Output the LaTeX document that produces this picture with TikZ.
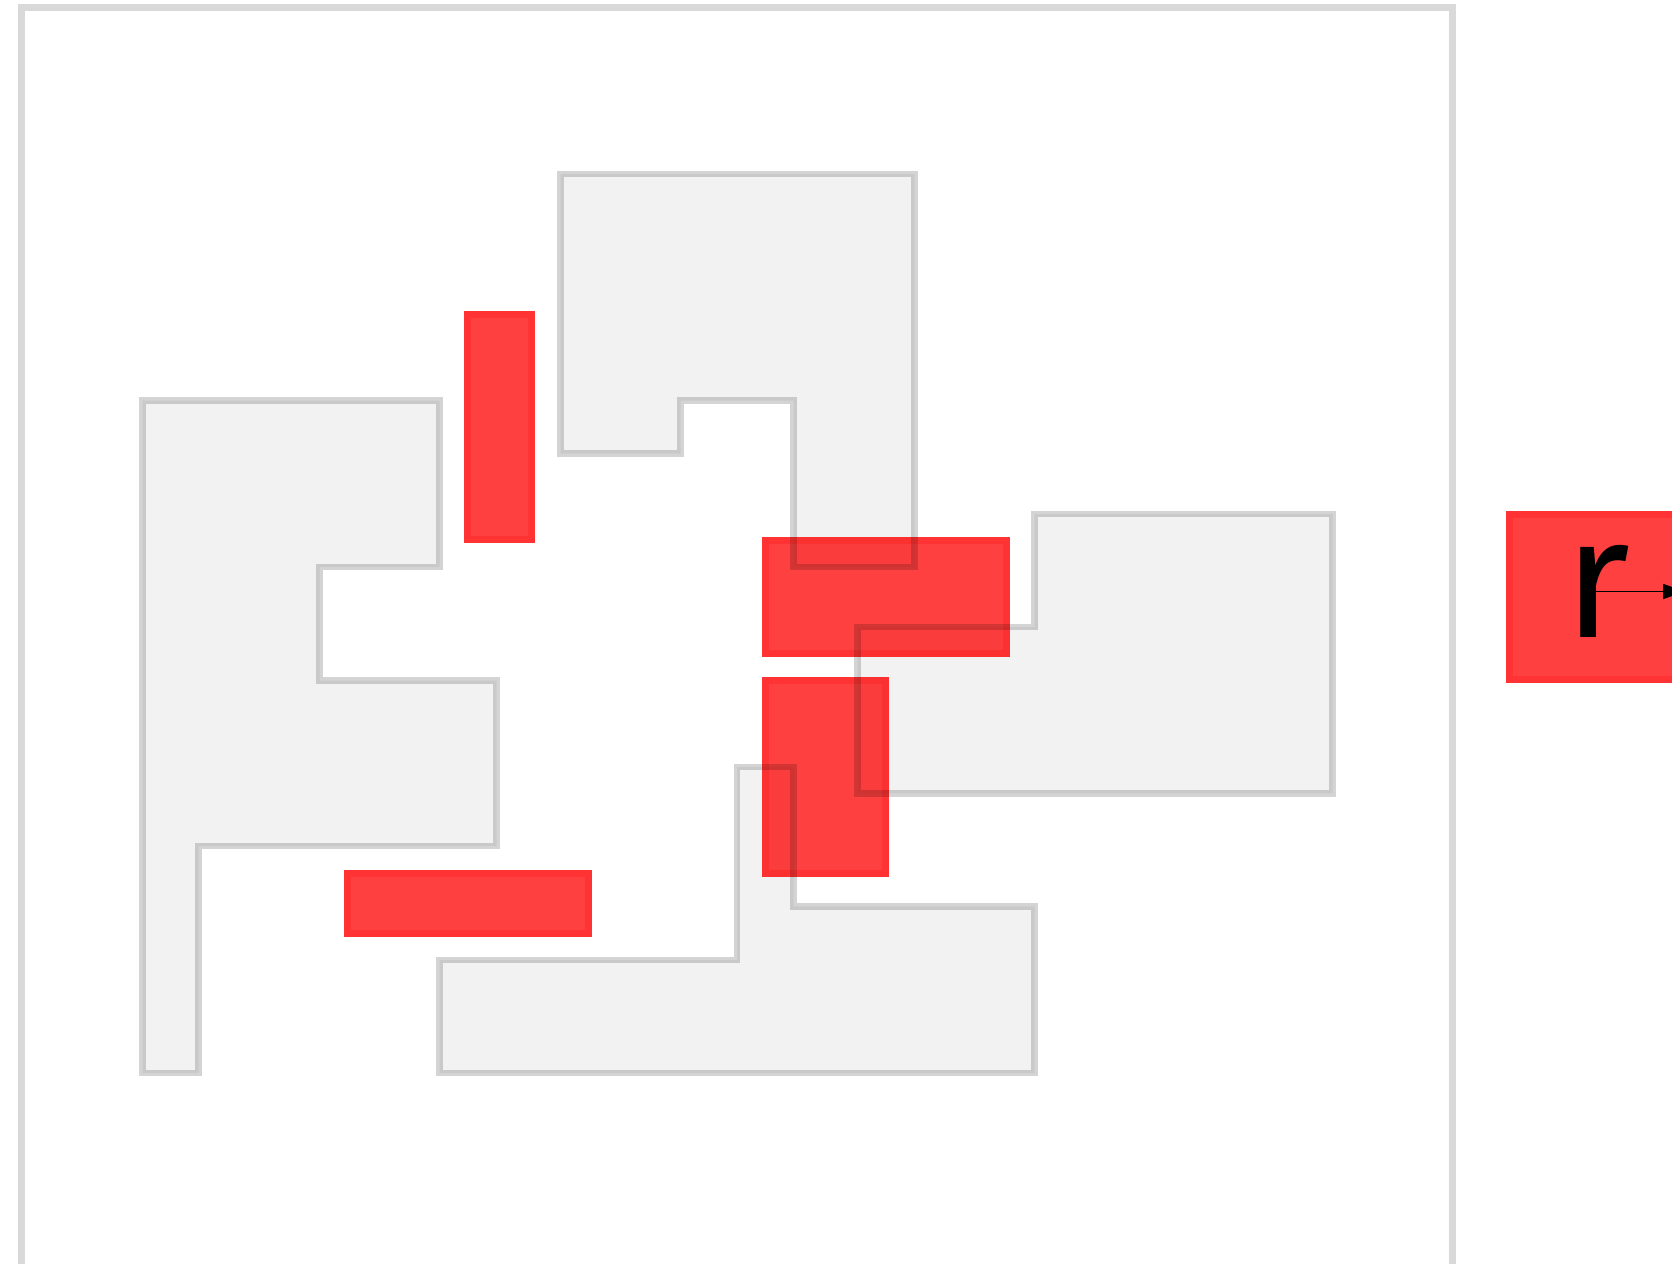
\documentclass[tikz,border=0pt]{standalone}
\usepackage{fontspec}
\newfontfamily\labelfont{Fira Sans}
\usetikzlibrary{arrows.meta}
\definecolor{shapefill}{HTML}{F2F2F2}
\tikzset{
  roomfill/.style={fill=shapefill, draw=none},
  roomline/.style={draw=black, draw opacity=0.17, line width=6.5pt, line join=miter},
  frameline/.style={draw=black, draw opacity=0.15, line width=7pt},
  redfill/.style={fill=red, fill opacity=0.75, draw=none},
  redline/.style={draw=red, draw opacity=0.2, line width=6.7pt},
  pathA/.style={insert path={(142.5,400.5) -- (439.5,400.5) -- (439.5,567) -- (319.5,567) -- (319.5,680.5) -- (496.7,680.5) -- (496.7,846) -- (198.5,846) -- (198.5,1073) -- (142.5,1073) -- cycle}},
  pathB/.style={insert path={(560.5,174) -- (914.5,174) -- (914.5,567) -- (793.5,567) -- (793.5,400.5) -- (680.5,400.5) -- (680.5,453.5) -- (560.5,453.5) -- cycle}},
  pathC/.style={insert path={(1034.5,514) -- (1332.5,514) -- (1332.5,793.3) -- (857.5,793.3) -- (857.5,627) -- (1034.5,627) -- cycle}},
  pathD/.style={insert path={(439.5,960) -- (737,960) -- (737,767) -- (793.5,767) -- (793.5,906.3) -- (1034.5,906.3) -- (1034.5,1073) -- (439.5,1073) -- cycle}},
}
\newcommand\myredbox[4]{%
  \fill[redfill] (#1,#2) rectangle (#3,#4);
  \draw[redline] (#1+3.35,#2+3.35) rectangle (#3-3.35,#4-3.35);}
\begin{document}
\begin{tikzpicture}[x=1pt,y=-1pt]
\useasboundingbox (0,0) rectangle (1672,1263);
% outer frame
\draw[frameline] (21.5,8) rectangle (1452.5,1300);
% room fills
\fill[roomfill, pathA];
\fill[roomfill, pathB];
\fill[roomfill, pathC];
\fill[roomfill, pathD];
% red boxes
\myredbox{464}{311}{535}{543}
\myredbox{762}{537}{1010}{657}
\myredbox{762}{677}{889}{877}
\myredbox{344}{870}{592}{936.7}
\myredbox{1506}{511}{1700}{683}
% room outlines on top
\draw[roomline, pathA];
\draw[roomline, pathB];
\draw[roomline, pathC];
\draw[roomline, pathD];
% label r with arrow
\node[font=\labelfont\fontsize{171}{173}\selectfont, anchor=base, inner sep=0pt] (rlabel) at (1597.5,637) {r};
\coordinate (rstart) at (1588,591.5);
\coordinate (rend) at (1685,591.5);
\draw[-{Triangle[length=22pt,width=15pt]}, line width=1.7pt] (rstart) -- (rend);
\end{tikzpicture}
\end{document}
